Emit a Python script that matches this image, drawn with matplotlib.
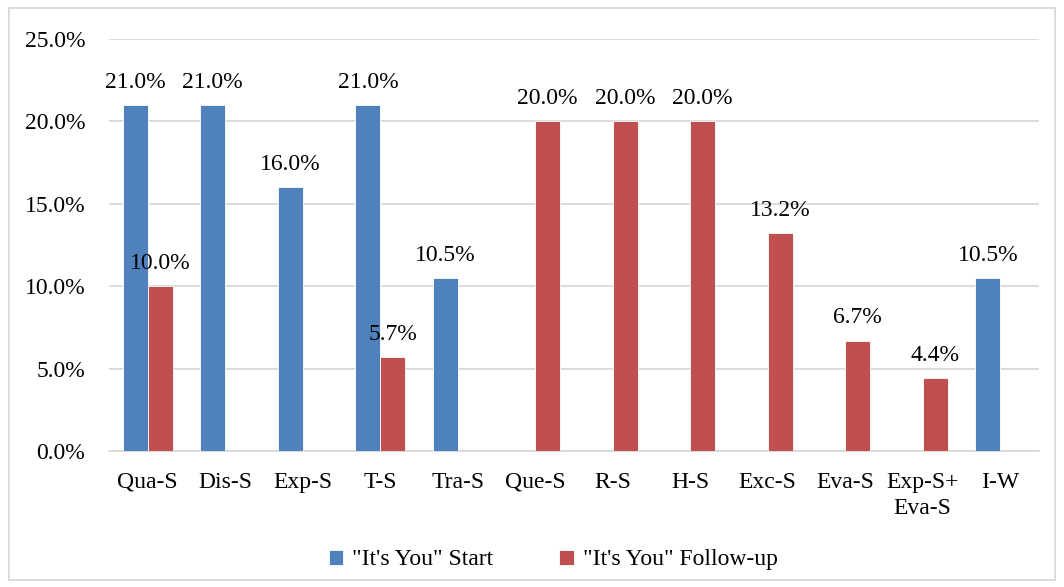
import numpy as np
import matplotlib.pyplot as plt
from matplotlib.patches import Rectangle
from matplotlib.ticker import FuncFormatter

plt.rcParams['font.family'] = ['Liberation Serif', 'DejaVu Serif']

categories = ['Qua-S', 'Dis-S', 'Exp-S', 'T-S', 'Tra-S', 'Que-S', 'R-S',
              'H-S', 'Exc-S', 'Eva-S', 'Exp-S+\nEva-S', 'I-W']
start = [21.0, 21.0, 16.0, 21.0, 10.5, 0, 0, 0, 0, 0, 0, 10.5]
follow_up = [10.0, 0, 0, 5.7, 0, 20.0, 20.0, 20.0, 13.2, 6.7, 4.4, 0]
series_names = ['"It\'s You" Start', '"It\'s You" Follow-up']

blue = '#4F81BD'
red = '#C0504D'
fs = 17

fig = plt.figure(figsize=(10.64, 5.87), dpi=100)
ax = fig.add_axes([0.1024, 0.2317, 0.8741, 0.7019])

x = np.arange(len(categories))
w = 0.32
# Excel-style clustered bars: only non-zero values get a bar and a label
for vals, off, col, name in [(start, -w / 2, blue, series_names[0]),
                             (follow_up, w / 2, red, series_names[1])]:
    vals = np.array(vals, dtype=float)
    bars = ax.bar(x + off, vals, width=w, color=col, edgecolor='white',
                  linewidth=0.6, label=name, zorder=3)
    for b, v in zip(bars, vals):
        if v > 0:
            ax.text(b.get_x() + b.get_width() / 2, v + 0.75, f'{v:.1f}%',
                    ha='center', va='bottom', fontsize=fs)

ax.set_ylim(0, 25)
ax.set_xlim(-0.5, len(categories) - 0.5)
ax.set_yticks(np.arange(0, 25.1, 5))
ax.yaxis.set_major_formatter(FuncFormatter(lambda v, p: f'{v:.1f}%'))
ax.set_xticks(x)
ax.set_xticklabels(categories, va='top', linespacing=1.3)
ax.tick_params(axis='both', length=0, labelsize=fs)
ax.tick_params(axis='x', pad=15)
ax.tick_params(axis='y', pad=17)
ax.grid(axis='y', color='#D9D9D9', linewidth=1.3, zorder=0)
for s in ['top', 'right', 'left']:
    ax.spines[s].set_visible(False)
ax.spines['bottom'].set_color('#D9D9D9')
ax.spines['bottom'].set_linewidth(1.3)

fig.legend(loc='lower center', bbox_to_anchor=(0.52, -0.008), ncol=2,
           frameon=False, fontsize=fs, handlelength=0.6, handleheight=0.6,
           handletextpad=0.4, columnspacing=2.8)

# light frame around the whole chart area
fig.add_artist(Rectangle((0.008, 0.012), 0.984, 0.974, transform=fig.transFigure,
                         fill=False, edgecolor='#D9D9D9', linewidth=1.3))

fig.savefig('out.png', dpi=100)
